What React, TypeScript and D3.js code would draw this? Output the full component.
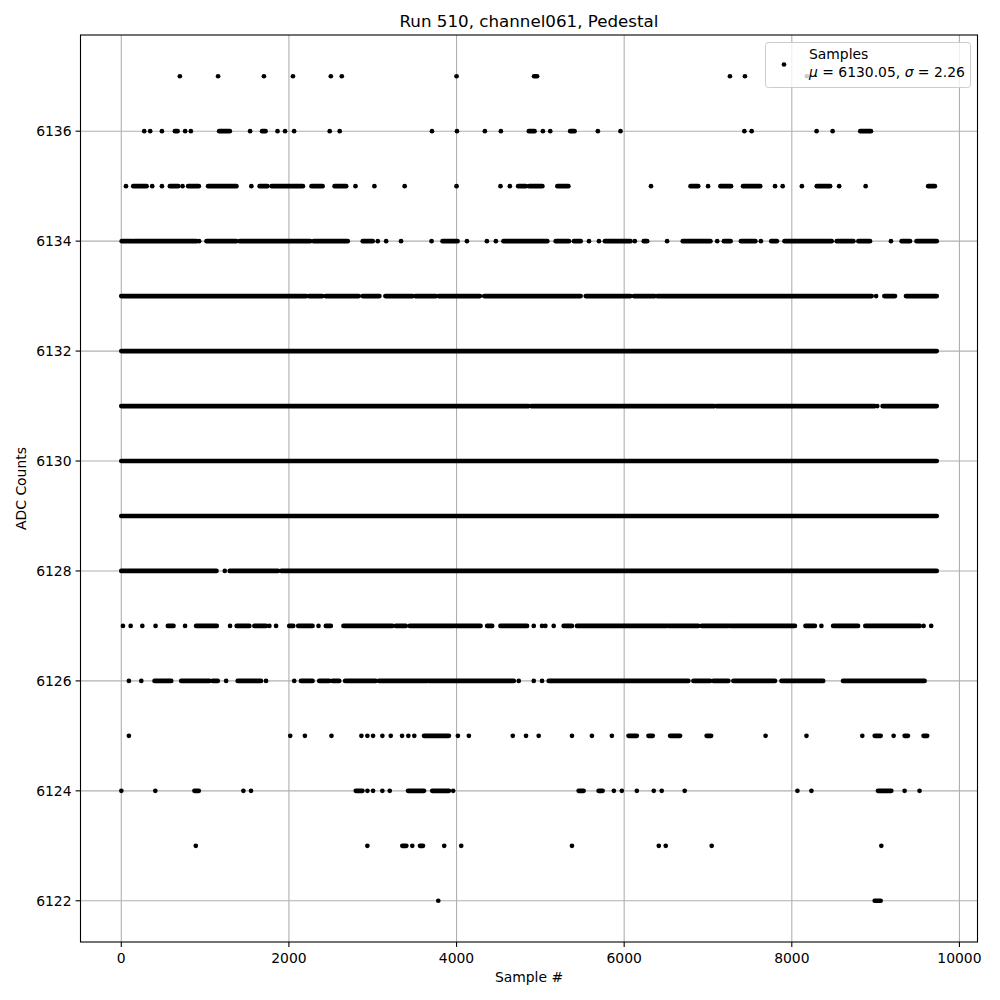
import React from 'react'
import * as d3 from 'd3'

// a sample index, or a [first, last] run of samples that overlap into one streak
type Run = number | [number, number]

const adcLevels = [6137, 6136, 6135, 6134, 6133, 6132, 6131, 6130, 6129, 6128, 6127, 6126, 6125, 6124, 6123, 6122]

const level6137: Run[] = [699, 1155, 1702, 2048, 2500, 2631, 4000, [4925, 4961], 7262, 7441, 8179]
const level6136: Run[] = [274, 345, 485, [640, 672], 762, 830, [1168, 1295], 1537, [1680, 1721], 1864, 1954, 2062, 2487, 2606, 3707, 4005, 4338, 4529, [4863, 4931], 5030, 5118, [5356, 5408], 5686, 5956, 7434, 7521, 8296, 8487, [8817, 8944]]
const level6135: Run[] = [56, [143, 302], 369, 485, [580, 679], 731, [798, 925], [1036, 1374], 1552, [1651, 1743], [1794, 2167], [2270, 2402], [2545, 2683], 2794, 3020, 3381, 4000, 4524, 4636, [4735, 4827], [4865, 5024], [5203, 5334], 6320, [6792, 6883], 7001, [7148, 7275], [7418, 7623], 7800, 7891, 8120, [8298, 8457], 8565, 8881, [9627, 9707]]
const level6134: Run[] = [[5, 124], [143, 898], 929, [1017, 1374], [1413, 2255], [2294, 2702], [2881, 3000], 3060, 3160, 3338, 3702, [3833, 4012], 4124, 4362, 4469, [4560, 5083], [5183, 5342], [5401, 5481], 5580, 5699, [5770, 6076], 6127, [6234, 6274], 6512, [6699, 7029], 7110, [7190, 7270], [7393, 7565], 7631, [7755, 7822], [7913, 8476], [8536, 8735], [8794, 8933], 9183, [9310, 9410], [9488, 9729]]
const level6133: Run[] = [[0, 2207], [2238, 2398], [2437, 2833], [2881, 3080], [3151, 3476], [3508, 3755], [3786, 4279], [4330, 5481], [5541, 6076], [6116, 6366], [6393, 8953], 9006, [9104, 9231], [9362, 9729]]
const level6132: Run[] = [[0, 9729]]
const level6131: Run[] = [[0, 4860], [4890, 6452], [6464, 7076], [7100, 8992], 9020, [9083, 9729]]
const level6130: Run[] = [[0, 9729]]
const level6129: Run[] = [[0, 9729]]
const level6128: Run[] = [[0, 1136], 1235, [1294, 1869], [1909, 9729]]
const level6127: Run[] = [20, 112, 251, 409, [556, 623], 761, [893, 1139], 1298, [1377, 1528], [1588, 1727], 1767, 1847, [2004, 2052], [2111, 2282], 2353, [2441, 2500], [2651, 3235], [3275, 3394], [3441, 3969], [3989, 4286], [4365, 4425], [4524, 4841], 4921, 5020, 5060, 5159, [5278, 5377], [5437, 6508], [6528, 6885], [6925, 7243], [7263, 8037], [8163, 8275], 8353, [8493, 8790], [8877, 9525], 9572, 9663]
const level6126: Run[] = [91, 239, [397, 596], [715, 1052], [1091, 1151], 1251, [1389, 1667], 1727, 2064, [2144, 2282], [2362, 2481], [2520, 2600], [2671, 3036], [3076, 3651], [3671, 4683], 4742, 4921, 5020, [5100, 6766], [6826, 7025], [7064, 7243], [7303, 7799], [7877, 8374], [8611, 9584]]
const level6125: Run[] = [91, 2016, 2191, 2508, 2865, 2936, 3004, 3115, 3215, 3350, 3425, 3496, [3612, 3909], 4016, 4147, 4671, 4829, 4980, 5377, 5615, 5853, [6052, 6151], [6290, 6341], [6548, 6667], [6984, 7037], 7687, 8175, 8841, [8989, 9060], 9215, [9346, 9385], [9572, 9615]]
const level6124: Run[] = [1, 406, [873, 925], 1457, 1548, [2798, 2877], 2937, 3004, 3115, 3203, [3421, 3612], [3710, 3909], 3960, [5457, 5516], [5695, 5743], 5877, 5972, 6151, 6353, 6448, 6722, 8067, 8234, [9028, 9187], 9346, 9524]
const level6123: Run[] = [889, 2936, [3353, 3401], 3472, [3564, 3600], 3853, 4056, 5377, 6413, 6496, 7044, 9068]
const level6122: Run[] = [3782, [8989, 9060]]

const samplesByLevel: Run[][] = [level6137, level6136, level6135, level6134, level6133, level6132, level6131, level6130, level6129, level6128, level6127, level6126, level6125, level6124, level6123, level6122]

const xTicks = [0, 2000, 4000, 6000, 8000, 10000]
const yTicks = [6122, 6124, 6126, 6128, 6130, 6132, 6134, 6136]
const lastSample = 9729
const meanAdc = '6130.05'
const sigmaAdc = '2.26'

const font = '"DejaVu Sans", sans-serif'

export default function App() {
    const left = 80.5, right = 977.5, top = 35, bottom = 942
    const xPad = lastSample * 0.05
    const x = d3.scaleLinear().domain([-xPad, lastSample + xPad]).range([left, right])
    const y = d3.scaleLinear().domain([6121.25, 6137.75]).range([bottom, top])
    const r = 2.35

    return <svg width={1000} height={1000} style={{position: 'absolute', left: 0, top: 0, background: '#fff'}} fontFamily={font}>
        <rect x={0} y={0} width={1000} height={1000} fill="#fff" />
        <text x={(left + right) / 2} y={27} textAnchor="middle" fontSize={16.7}>Run 510, channel061, Pedestal</text>

        <g className="grid" stroke="#b0b0b0" strokeWidth={1.1}>
            {xTicks.map(d => <line key={d} x1={x(d)} x2={x(d)} y1={top} y2={bottom} />)}
            {yTicks.map(d => <line key={d} y1={y(d)} y2={y(d)} x1={left} x2={right} />)}
        </g>

        <g className="samples" fill="#000" stroke="#000">
            {samplesByLevel.map((runs, i) => <g key={adcLevels[i]}>
                {runs.map((d, j) => typeof d === 'number'
                    ? <circle key={j} cx={x(d)} cy={y(adcLevels[i])} r={r} stroke="none" />
                    : <line key={j} x1={x(d[0])} x2={x(d[1])} y1={y(adcLevels[i])} y2={y(adcLevels[i])} strokeWidth={r * 2} strokeLinecap="round" />)}
            </g>)}
        </g>

        <rect x={left} y={top} width={right - left} height={bottom - top} fill="none" stroke="#000" strokeWidth={1.1} />

        <g className="axis--x" fontSize={13.9}>
            {xTicks.map(d => <g key={d}>
                <line x1={x(d)} x2={x(d)} y1={bottom} y2={bottom + 4.9} stroke="#000" strokeWidth={1.1} />
                <text x={x(d)} y={bottom + 21} textAnchor="middle">{d}</text>
            </g>)}
            <text x={(left + right) / 2} y={982} textAnchor="middle">Sample #</text>
        </g>
        <g className="axis--y" fontSize={13.9}>
            {yTicks.map(d => <g key={d}>
                <line x1={left - 4.9} x2={left} y1={y(d)} y2={y(d)} stroke="#000" strokeWidth={1.1} />
                <text x={left - 9} y={y(d) + 5} textAnchor="end">{d}</text>
            </g>)}
            <text transform={`translate(26,${(top + bottom) / 2}) rotate(-90)`} textAnchor="middle">ADC Counts</text>
        </g>

        <g className="legend" fontSize={13.9}>
            <rect x={765.5} y={42.5} width={205} height={45} rx={3} fill="#fff" fillOpacity={0.8} stroke="#cccccc" strokeWidth={1} />
            <circle cx={784} cy={64.5} r={r} fill="#000" />
            <text x={809} y={59}>Samples</text>
            <text x={809} y={76.5}>
                <tspan fontStyle="italic">μ</tspan> = {meanAdc}, <tspan fontStyle="italic">σ</tspan> = {sigmaAdc}
            </text>
        </g>
    </svg>
}
